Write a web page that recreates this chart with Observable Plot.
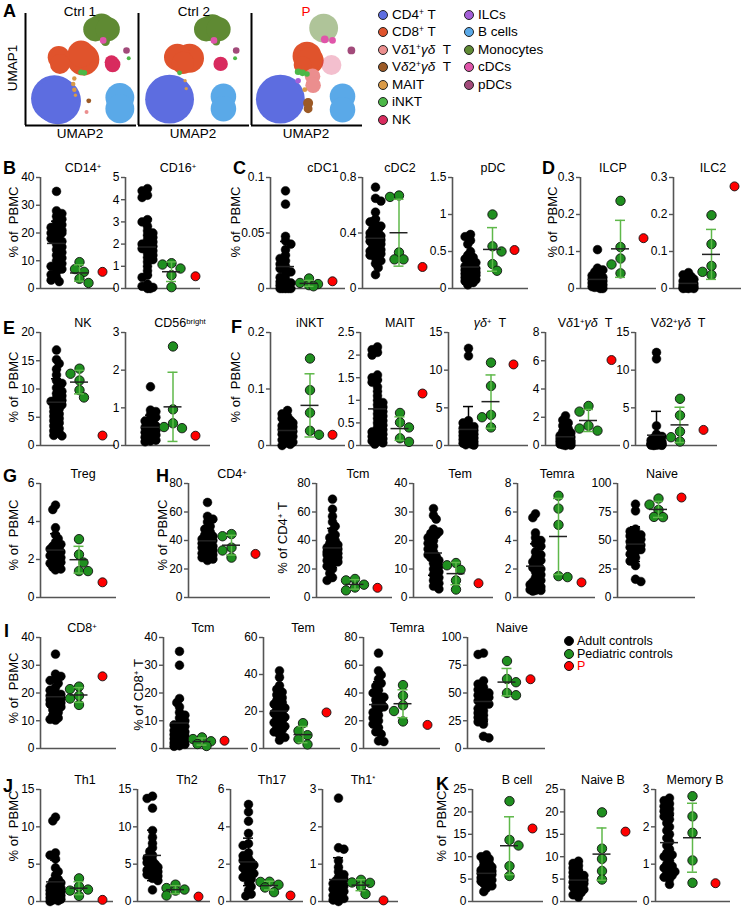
<!DOCTYPE html>
<html>
<head>
<meta charset="utf-8">
<script src="https://cdn.jsdelivr.net/npm/d3@7"></script>
<script src="https://cdn.jsdelivr.net/npm/@observablehq/plot@0.6"></script>
<style>
  html, body { margin: 0; padding: 0; background: #fff; }
  #fig { position: relative; width: 745px; height: 918px; overflow: hidden; font-family: "Liberation Sans", Arial, sans-serif; color: #000; }
  .t { position: absolute; white-space: nowrap; line-height: 1; font-size: 12.5px; }
  .letter { font-weight: 900; font-size: 18px; }
  .ylab { font-size: 13px; }
  .sup { font-size: 0.62em; position: relative; top: -0.45em; }
  .dotk { position: absolute; border-radius: 50%; box-sizing: border-box; border: 1px solid #222; }
</style>
</head>
<body>
<div id="fig"></div>
<script>
// ---------------- DATA ----------------
const groups = ["Adult controls", "Pediatric controls", "P"];

// B
const cd14Adult = [35, 28, 27, 26, 25, 24, 23, 22, 22, 21, 21, 20, 20, 20, 19, 19, 18, 18, 17, 16, 15, 14, 13, 12, 11, 10, 9, 8, 8, 7, 6, 5, 4, 3, 2.5];
const cd14Ped = [9.5, 7, 6, 3.5, 2];
const cd14P = 6;
const cd16Adult = [4.5, 4.4, 4.2, 4.1, 3.1, 3.0, 2.8, 2.6, 2.5, 2.4, 2.3, 2.2, 2.1, 2.0, 2.0, 1.9, 1.8, 1.8, 1.7, 1.6, 1.5, 1.4, 1.3, 1.2, 1.0, 0.8, 0.6, 0.5, 0.2, 0.1, 0.05, 0, 0];
const cd16Ped = [1.14, 1.08, 0.9, 0.6, 0.06];
const cd16P = 0.55;
// C
const cdc1Adult = [0.088, 0.076, 0.047, 0.043, 0.04, 0.035, 0.03, 0.027, 0.025, 0.022, 0.02, 0.018, 0.016, 0.015, 0.012, 0.01, 0.008, 0.006, 0.005, 0.004, 0.003, 0.002, 0.001, 0, 0, 0, 0, 0];
const cdc1Ped = [0.009, 0.005, 0.004, 0.003, 0.002];
const cdc1P = 0.0065;
const cdc2Adult = [0.73, 0.65, 0.63, 0.55, 0.5, 0.48, 0.46, 0.45, 0.43, 0.42, 0.4, 0.39, 0.38, 0.37, 0.36, 0.35, 0.34, 0.33, 0.32, 0.3, 0.3, 0.29, 0.28, 0.27, 0.26, 0.25, 0.24, 0.22, 0.2, 0.18, 0.15, 0.1];
const cdc2Ped = [0.67, 0.66, 0.26, 0.21, 0.21];
const cdc2P = 0.155;
const pdcAdult = [0.73, 0.7, 0.65, 0.6, 0.5, 0.45, 0.42, 0.4, 0.38, 0.35, 0.33, 0.3, 0.3, 0.28, 0.27, 0.25, 0.24, 0.22, 0.22, 0.2, 0.2, 0.2, 0.18, 0.18, 0.16, 0.15, 0.15, 0.12, 0.12, 0.1, 0.1, 0.08, 0.05];
const pdcPed = [1.0, 0.57, 0.5, 0.33, 0.24];
const pdcP = 0.52;
// D
const ilcpAdult = [0.105, 0.055, 0.05, 0.045, 0.04, 0.035, 0.03, 0.03, 0.028, 0.025, 0.022, 0.02, 0.02, 0.018, 0.015, 0.012, 0.01, 0.01, 0.008, 0.005, 0.005, 0.003, 0, 0];
const ilcpPed = [0.237, 0.112, 0.081, 0.065, 0.041];
const ilcpP = 0.136;
const ilc2Adult = [0.043, 0.037, 0.032, 0.028, 0.025, 0.022, 0.02, 0.018, 0.015, 0.013, 0.012, 0.01, 0.008, 0.007, 0.005, 0.004, 0.003, 0.002, 0.001, 0, 0, 0];
const ilc2Ped = [0.198, 0.12, 0.061, 0.045, 0.037];
const ilc2P = 0.276;
// E
const nkAdult = [16.9, 15.2, 14.5, 13.5, 12.5, 11.5, 11, 10.2, 9.6, 9.2, 8.8, 8.4, 8, 7.8, 7.5, 7.2, 6.8, 6.5, 6, 5.6, 5.2, 4.8, 4.4, 4, 3.5, 3, 2.6, 2.2, 1.8, 1.7];
const nkPed = [13.6, 12.7, 11.5, 9.8, 8.5];
const nkP = 1.76;
const cd56Adult = [1.56, 0.94, 0.9, 0.82, 0.75, 0.7, 0.65, 0.6, 0.56, 0.52, 0.5, 0.48, 0.45, 0.42, 0.4, 0.37, 0.35, 0.32, 0.3, 0.28, 0.25, 0.22, 0.2, 0.17, 0.14, 0.12, 0.1];
const cd56Ped = [2.63, 0.96, 0.59, 0.49, 0.46];
const cd56P = 0.26;
// F
const inktAdult = [0.062, 0.056, 0.052, 0.048, 0.045, 0.042, 0.04, 0.037, 0.035, 0.033, 0.031, 0.03, 0.028, 0.026, 0.025, 0.023, 0.021, 0.02, 0.018, 0.016, 0.014, 0.012, 0.01, 0.008, 0.006, 0.004, 0.002, 0];
const inktPed = [0.154, 0.098, 0.058, 0.026, 0.019];
const inktP = 0.019;
const maitAdult = [2.18, 2.12, 2.06, 2.0, 1.56, 1.5, 1.45, 1.4, 1.3, 1.2, 1.1, 1.0, 0.95, 0.9, 0.85, 0.8, 0.75, 0.7, 0.65, 0.6, 0.55, 0.5, 0.45, 0.4, 0.35, 0.3, 0.3, 0.25, 0.2, 0.2, 0.15, 0.15, 0.1, 0.1, 0.06, 0.03];
const maitPed = [0.72, 0.51, 0.4, 0.16, 0.08];
const maitP = 1.15;
const gdAdult = [12.9, 11.9, 3.3, 3.0, 2.7, 2.5, 2.3, 2.1, 2.0, 1.8, 1.7, 1.6, 1.5, 1.4, 1.3, 1.2, 1.1, 1.0, 0.9, 0.8, 0.7, 0.6, 0.5, 0.4, 0.3, 0.2, 0.1, 0.05];
const gdPed = [11.0, 7.9, 4.06, 3.75, 2.4];
const gdP = 10.76;
const vd1Adult = [2.1, 1.8, 1.6, 1.4, 1.2, 1.0, 0.9, 0.8, 0.7, 0.6, 0.55, 0.5, 0.45, 0.4, 0.35, 0.3, 0.3, 0.25, 0.2, 0.2, 0.15, 0.1, 0.08, 0.05, 0.02, 0];
const vd1Ped = [2.8, 2.4, 1.4, 1.2, 1.05];
const vd1P = 6.05;
const vd2Adult = [12.35, 11.5, 2.6, 1.5, 1.2, 1.0, 0.85, 0.7, 0.6, 0.5, 0.45, 0.4, 0.3, 0.3, 0.25, 0.2, 0.2, 0.15, 0.15, 0.12, 0.1, 0.1, 0.05, 0.05, 0.03, 0];
const vd2Ped = [6.2, 4.0, 1.85, 1.1, 0.53];
const vd2P = 2.07;
// G
const tregAdult = [4.86, 4.63, 3.67, 3.3, 3.1, 2.9, 2.8, 2.7, 2.6, 2.55, 2.5, 2.4, 2.35, 2.3, 2.2, 2.15, 2.1, 2.0, 2.0, 1.9, 1.85, 1.8, 1.7, 1.6, 1.5, 1.45];
const tregPed = [3.07, 2.26, 1.84, 1.39, 1.39];
const tregP = 0.8;
// H
const cd4Adult = [66.7, 57, 55, 53, 50, 48, 46, 44, 43, 42, 41, 40, 39, 38, 38, 37, 36, 35, 35, 34, 33, 32, 31, 30, 29, 28, 27, 26];
const cd4Ped = [44.5, 43, 35, 33, 28];
const cd4P = 30.6;
const tcm4Adult = [69, 62, 57, 53, 50, 47, 44, 42, 40, 38, 37, 36, 35, 34, 33, 32, 31, 30, 30, 29, 28, 27, 26, 25, 24, 22, 20, 17, 14, 12];
const tcm4Ped = [13, 12, 9, 7, 5];
const tcm4P = 6.8;
const tem4Adult = [31.2, 28.8, 27.5, 24, 23, 22.5, 22, 21, 20, 19, 18, 17, 16, 15, 14.5, 14, 13, 12, 11, 10, 9, 8, 7, 6, 5, 4, 3];
const tem4Ped = [12.1, 11.3, 9.7, 6.0, 2.8];
const tem4P = 5.0;
const temra4Adult = [5.87, 5.6, 4.53, 4.2, 4.0, 3.8, 3.6, 3.2, 3.0, 2.8, 2.6, 2.5, 2.3, 2.1, 2.0, 1.8, 1.6, 1.4, 1.2, 1.1, 1.0, 0.9, 0.8, 0.75, 0.7, 0.6, 0.55, 0.5, 0.5, 0.45];
const temra4Ped = [7.14, 6.24, 5.1, 1.5, 1.43];
const temra4P = 1.06;
const naive4Adult = [81.8, 76, 60, 58, 56, 55, 54, 53, 52, 51, 50, 49, 48, 47, 46, 45, 44, 42, 40, 38, 35, 32, 28, 16, 14];
const naive4Ped = [86.8, 81.5, 76.8, 70.7, 70.5];
const naive4P = 87.7;
// I
const cd8Adult = [34, 26.8, 26, 25, 24.5, 23.5, 22, 21, 20, 19.5, 19, 18.5, 18, 17.5, 17, 16.5, 16, 15.5, 15, 14, 13, 12, 11, 10.5, 10.2];
const cd8Ped = [22.3, 21.4, 19, 18, 15.7];
const cd8P = 26;
const tcm8Adult = [35, 30, 18, 16.5, 15, 13, 12, 11, 10, 9, 8.5, 8, 7, 6.5, 6, 5.5, 5, 4.5, 4, 3.5, 3, 2.5, 2, 1.5, 1, 0.8];
const tcm8Ped = [4.0, 3.4, 2.6, 1.6, 0.9];
const tcm8P = 2.8;
const tem8Adult = [42, 38.5, 34, 32, 30.5, 29, 27.5, 26, 25, 24, 23, 22, 21, 20, 19, 18, 17, 16, 15, 14, 13, 12, 11, 10, 9, 7.5, 6, 4.5];
const tem8Ped = [13.7, 9.5, 7.2, 5.0, 2.2];
const tem8P = 19.5;
const temra8Adult = [68.7, 56, 53, 50, 47, 45, 42, 40, 38, 37, 35, 33, 31, 30, 28, 26, 24, 22, 20, 17.5, 15, 12, 10.3, 5.5, 5];
const temra8Ped = [45.7, 38, 31.2, 27, 19.5];
const temra8P = 17;
const naive8Adult = [86, 84.7, 61, 58, 55, 53, 51, 50, 48, 47, 46, 45, 44, 43, 42, 40, 38, 36, 34, 32, 30, 28, 26, 24, 22, 11, 9.5];
const naive8Ped = [78.8, 62.6, 59.7, 50, 48];
const naive8P = 62.4;
// J
const th1Adult = [11.3, 10.8, 6.5, 6.2, 5.7, 4.5, 4.0, 3.5, 3.0, 2.7, 2.5, 2.2, 2.0, 1.8, 1.6, 1.5, 1.3, 1.2, 1.1, 1.0, 0.9, 0.8, 0.7, 0.6, 0.5, 0.4, 0.3, 0.2, 0.1, 0];
const th1Ped = [3.1, 2.0, 1.6, 1.46, 0.75];
const th1P = 0.22;
const th2Adult = [14.1, 13.8, 12.5, 9.5, 8.6, 7.8, 7.2, 6.7, 6.2, 5.8, 5.5, 5.2, 5.0, 4.8, 4.6, 4.4, 4.2, 4.0, 3.8, 3.6, 3.4, 3.1, 2.8, 1.55];
const th2Ped = [2.26, 1.8, 1.6, 1.46, 0.8];
const th2P = 0.66;
const th17Adult = [5.2, 4.8, 4.3, 3.65, 3.1, 3.0, 2.6, 2.45, 2.3, 2.2, 2.1, 2.0, 1.95, 1.9, 1.8, 1.7, 1.6, 1.5, 1.4, 1.3, 1.2, 1.0, 0.8, 0.6, 0.4, 0.3];
const th17Ped = [1.06, 1.05, 0.9, 0.75, 0.5];
const th17P = 0.32;
const th1sAdult = [2.77, 1.44, 1.4, 1.09, 0.92, 0.8, 0.72, 0.65, 0.6, 0.55, 0.5, 0.48, 0.45, 0.42, 0.4, 0.36, 0.33, 0.3, 0.27, 0.24, 0.2, 0.16, 0.12, 0.08, 0.04, 0];
const th1sPed = [0.58, 0.51, 0.5, 0.4, 0.2];
const th1sP = 0.03;
// K
const bcellAdult = [10.4, 10, 9.5, 9, 8.5, 8, 7.7, 7.4, 7, 6.8, 6.5, 6.3, 6, 5.8, 5.5, 5.3, 5, 4.8, 4.5, 4.2, 4, 3.5, 3, 2.2];
const bcellPed = [22.4, 13.75, 12.5, 7.9, 5.7];
const bcellP = 16.3;
const naiveBAdult = [9.0, 8.5, 8.0, 7.5, 7.0, 6.5, 6.0, 5.8, 5.5, 5.2, 5.0, 4.8, 4.5, 4.3, 4.0, 3.8, 3.5, 3.2, 3.0, 2.7, 2.4, 2.0, 1.5, 1.0];
const naiveBPed = [19.9, 11.8, 9.5, 6.8, 4.9];
const naiveBP = 15.6;
const memBAdult = [2.77, 2.7, 2.62, 2.55, 2.48, 2.42, 2.35, 2.28, 2.2, 2.1, 2.0, 1.9, 1.8, 1.7, 1.6, 1.5, 1.4, 1.3, 1.25, 1.2, 1.1, 1.0, 0.95, 0.9, 0.85, 0.8, 0.75, 0.7, 0.65, 0.6, 0.46];
const memBPed = [2.82, 2.28, 1.84, 1.1, 0.5];
const memBP = 0.49;

// UMAP (panel A): cell types, and cluster blobs [sample, type, umapX, umapY, radius, density]
const umapTypes = ["CD4⁺ T", "CD8⁺ T", "Vδ1⁺γδ T", "Vδ2⁺γδ T", "MAIT", "iNKT", "NK", "ILCs", "B cells", "Monocytes", "cDCs", "pDCs"];
const umapColors = ["#5d6de0", "#e0532c", "#eb8e8e", "#9c5a26", "#d99a47", "#4cb847", "#d82b5e", "#a45fd8", "#5aa9e8", "#5f8a33", "#e055aa", "#a24a7a"];
const umapSamples = ["Ctrl 1", "Ctrl 2", "P"];
const umapBlobs = [
  ["Ctrl 1", "CD4⁺ T", 2.6, 2.4, 2.1, 1], ["Ctrl 1", "CD4⁺ T", 2.9, 2.2, 2.1, 1],
  ["Ctrl 1", "B cells", 8.5, 2.5, 1.3, 1], ["Ctrl 1", "B cells", 8.5, 1.5, 1.3, 1],
  ["Ctrl 1", "Monocytes", 6.3, 8.6, 1.1, 1], ["Ctrl 1", "Monocytes", 7.4, 8.6, 1.1, 1], ["Ctrl 1", "Monocytes", 6.85, 8.8, 1.2, 1], ["Ctrl 1", "Monocytes", 7.2, 7.5, 0.4, 1],
  ["Ctrl 1", "CD8⁺ T", 3.0, 6.1, 1.0, 1], ["Ctrl 1", "CD8⁺ T", 3.1, 5.5, 0.9, 1], ["Ctrl 1", "CD8⁺ T", 5.2, 5.9, 1.45, 1], ["Ctrl 1", "CD8⁺ T", 5.0, 6.4, 1.2, 1],
  ["Ctrl 1", "NK", 7.85, 5.45, 0.7, 1], ["Ctrl 1", "NK", 7.75, 5.65, 0.62, 1],
  ["Ctrl 1", "iNKT", 5.0, 4.75, 0.25, 1], ["Ctrl 1", "iNKT", 5.3, 4.7, 0.25, 1], ["Ctrl 1", "iNKT", 9.3, 6.0, 0.18, 1],
  ["Ctrl 1", "MAIT", 4.4, 4.2, 0.2, 1], ["Ctrl 1", "MAIT", 4.3, 3.7, 0.2, 1], ["Ctrl 1", "MAIT", 4.4, 3.2, 0.2, 1], ["Ctrl 1", "MAIT", 4.5, 2.7, 0.15, 1],
  ["Ctrl 1", "Vδ2⁺γδ T", 5.7, 2.2, 0.22, 1], ["Ctrl 1", "Vδ1⁺γδ T", 5.5, 1.2, 0.18, 1],
  ["Ctrl 1", "cDCs", 7.0, 7.6, 0.3, 1], ["Ctrl 1", "pDCs", 9.1, 6.7, 0.3, 1],
  ["Ctrl 2", "CD4⁺ T", 2.8, 2.35, 2.2, 1],
  ["Ctrl 2", "B cells", 7.65, 2.6, 1.15, 1], ["Ctrl 2", "B cells", 7.65, 1.5, 1.15, 1],
  ["Ctrl 2", "Monocytes", 6.1, 8.6, 1.1, 1], ["Ctrl 2", "Monocytes", 7.2, 8.6, 1.1, 1], ["Ctrl 2", "Monocytes", 6.65, 8.75, 1.2, 1], ["Ctrl 2", "Monocytes", 7.0, 7.5, 0.35, 1],
  ["Ctrl 2", "CD8⁺ T", 3.5, 6.1, 1.2, 1], ["Ctrl 2", "CD8⁺ T", 4.6, 6.0, 1.3, 1], ["Ctrl 2", "CD8⁺ T", 4.0, 5.6, 1.0, 1],
  ["Ctrl 2", "NK", 7.4, 5.5, 0.65, 1],
  ["Ctrl 2", "iNKT", 3.7, 4.7, 0.22, 1], ["Ctrl 2", "iNKT", 8.7, 6.0, 0.18, 1],
  ["Ctrl 2", "MAIT", 4.2, 4.0, 0.15, 1], ["Ctrl 2", "MAIT", 4.3, 3.3, 0.15, 1],
  ["Ctrl 2", "cDCs", 6.8, 7.6, 0.3, 1], ["Ctrl 2", "pDCs", 8.8, 6.7, 0.3, 1],
  ["P", "CD4⁺ T", 2.6, 2.35, 2.2, 1],
  ["P", "B cells", 8.2, 2.6, 1.15, 1], ["P", "B cells", 8.2, 1.4, 1.15, 1],
  ["P", "Monocytes", 6.5, 8.7, 1.3, 0.5],
  ["P", "cDCs", 6.6, 7.7, 0.35, 1], ["P", "cDCs", 7.3, 7.6, 0.3, 1],
  ["P", "CD8⁺ T", 5.0, 6.2, 1.3, 1], ["P", "CD8⁺ T", 5.3, 5.8, 1.2, 1], ["P", "CD8⁺ T", 4.6, 5.4, 0.8, 1],
  ["P", "Vδ1⁺γδ T", 5.5, 4.4, 0.7, 1], ["P", "Vδ1⁺γδ T", 5.55, 3.6, 0.7, 1],
  ["P", "NK", 7.2, 5.4, 0.9, 0.3],
  ["P", "iNKT", 4.2, 4.8, 0.3, 1], ["P", "iNKT", 4.6, 4.7, 0.3, 1], ["P", "iNKT", 5.0, 4.6, 0.25, 1],
  ["P", "ILCs", 4.2, 4.0, 0.25, 1],
  ["P", "Vδ2⁺γδ T", 5.1, 2.0, 0.45, 1], ["P", "Vδ2⁺γδ T", 5.1, 1.5, 0.4, 1],
  ["P", "MAIT", 4.8, 3.2, 0.22, 1],
  ["P", "pDCs", 9.0, 6.7, 0.35, 1]
];

// ---------------- LAYOUT ----------------
const fig = document.getElementById("fig");
const FONT = '"Liberation Sans", Arial, sans-serif';
const AXIS = "#555";
const GREEN_DOT = "#1f8f1f";
const GREEN_BAR = "#5fb84a";

function addText(html, x, y, opts = {}) {
  const d = document.createElement("div");
  d.className = "t " + (opts.cls || "");
  d.innerHTML = html;
  d.style.left = x + "px";
  d.style.top = y + "px";
  const a = opts.anchor || "middle";
  const tx = a === "start" ? "0" : a === "end" ? "-100%" : "-50%";
  d.style.transform = `translate(${tx}, -50%)` + (opts.rotate ? " rotate(-90deg)" : "");
  if (opts.color) d.style.color = opts.color;
  if (opts.size) d.style.fontSize = opts.size + "px";
  fig.appendChild(d);
  return d;
}
function place(svg, left, top) {
  svg.style.position = "absolute";
  svg.style.left = left + "px";
  svg.style.top = top + "px";
  svg.style.overflow = "visible";
  svg.style.maxWidth = "none";
  fig.appendChild(svg);
}

// --------- Panel A: UMAPs ---------
const umapFrames = [25, 138, 251];
const umapTitleX = [80, 194, 306];
umapSamples.forEach((s, k) => {
  const blobs = umapBlobs.filter(b => b[0] === s).map(b => ({type: b[1], x: b[2], y: b[3], r: b[4], o: b[5]}));
  const W = 111, H = 112, ml = 3, mb = 3, mt = 2, mr = 2;
  const svg = Plot.plot({
    width: W + ml + mr, height: H + mt + mb,
    marginLeft: ml, marginRight: mr, marginTop: mt, marginBottom: mb,
    x: {domain: [0, 10], axis: null},
    y: {domain: [0, 10], axis: null},
    r: {type: "linear", domain: [0, 1], range: [0, W / 10]},
    color: {domain: umapTypes, range: umapColors},
    opacity: {type: "identity"},
    style: {background: "transparent", fontFamily: FONT},
    marks: [
      Plot.dot(blobs, {x: "x", y: "y", r: "r", fill: "type", fillOpacity: "o", stroke: "none"}),
      Plot.ruleX([0], {y1: 0, y2: 10, stroke: "#000", strokeWidth: 2}),
      Plot.ruleY([0], {x1: 0, x2: 10, stroke: "#000", strokeWidth: 2})
    ]
  });
  place(svg, umapFrames[k] - ml, 13 - mt);
  addText(s, umapTitleX[k], 12, {size: 13.5, color: s === "P" ? "#ff0000" : "#000"});
  addText("UMAP2", umapFrames[k] + 55, 134, {size: 13.5});
});
addText("UMAP1", 13, 68, {size: 13.5, rotate: true});
addText("A", 3, 11, {cls: "letter", anchor: "start"});

// UMAP legend
const legCols = [[383, 0, 7], [469, 7, 12]];
const legRowsY = [15, 32, 50, 67, 85, 102, 120];
legCols.forEach(([cx, i0, i1]) => {
  for (let i = i0; i < i1; i++) {
    const y = legRowsY[i - i0];
    const c = document.createElement("div");
    c.className = "dotk";
    c.style.width = "10px"; c.style.height = "10px";
    c.style.left = (cx - 5) + "px"; c.style.top = (y - 5) + "px";
    c.style.background = umapColors[i];
    fig.appendChild(c);
    const lbl = umapTypes[i]
      .replace("CD4⁺", 'CD4<span class="sup">+</span>')
      .replace("CD8⁺", 'CD8<span class="sup">+</span>')
      .replace(/Vδ(\d)⁺γδ T/, 'V<i>δ</i>$1<span class="sup">+</span><i>γδ</i>&nbsp; T');
    addText(lbl, cx + 9, y, {anchor: "start", size: 13.5});
  }
});

// --------- Scatter panels ---------
const sup = s => `<span class="sup">${s}</span>`;
const panels = [
  // row B/C/D
  {t: "CD14" + sup("+"), tx: 83, ax: 40, right: 115, top: 177, zero: 288, ymax: 40, ticks: [0, 10, 20, 30, 40], c: [16, 62], a: cd14Adult, g: cd14Ped, p: cd14P},
  {t: "CD16" + sup("+"), tx: 178, ax: 125, right: 200, top: 177, zero: 288, ymax: 5, ticks: [0, 1, 2, 3, 4, 5], c: [22, 70], a: cd16Adult, g: cd16Ped, p: cd16P},
  {t: "cDC1", tx: 323, ax: 270, right: 345, top: 177, zero: 288, ymax: 0.1, ticks: [0, 0.05, 0.1], c: [15, 62], a: cdc1Adult, g: cdc1Ped, p: cdc1P},
  {t: "cDC2", tx: 400, ax: 362, right: 440, top: 177, zero: 288, ymax: 0.8, ticks: [0, 0.4, 0.8], c: [13, 60], a: cdc2Adult, g: cdc2Ped, p: cdc2P},
  {t: "pDC", tx: 493, ax: 452, right: 528, top: 177, zero: 288, ymax: 1.5, ticks: [0, 0.5, 1, 1.5], c: [18, 62], a: pdcAdult, g: pdcPed, p: pdcP},
  {t: "ILCP", tx: 613, ax: 580, right: 656, top: 177, zero: 288, ymax: 0.3, ticks: [0, 0.1, 0.2, 0.3], c: [17, 63], a: ilcpAdult, g: ilcpPed, p: ilcpP},
  {t: "ILC2", tx: 713, ax: 673, right: 741, top: 177, zero: 288, ymax: 0.3, ticks: [0, 0.1, 0.2, 0.3], c: [15, 61], a: ilc2Adult, g: ilc2Ped, p: ilc2P},
  // row E/F
  {t: "NK", tx: 83, ax: 40, right: 115, top: 332, zero: 445, ymax: 20, ticks: [0, 5, 10, 15, 20], c: [16, 62], a: nkAdult, g: nkPed, p: nkP},
  {t: "CD56" + sup("bright"), tx: 180, ax: 125, right: 210, top: 332, zero: 445, ymax: 3, ticks: [0, 1, 2, 3], c: [25, 70], a: cd56Adult, g: cd56Ped, p: cd56P},
  {t: "iNKT", tx: 310, ax: 270, right: 345, top: 332, zero: 445, ymax: 0.2, ticks: [0, 0.1, 0.2], c: [17, 62], a: inktAdult, g: inktPed, p: inktP},
  {t: "MAIT", tx: 400, ax: 360, right: 433, top: 332, zero: 445, ymax: 2.5, ticks: [0, 0.5, 1, 1.5, 2, 2.5], c: [17, 62], a: maitAdult, g: maitPed, p: maitP},
  {t: "<i>γδ</i>" + sup("+") + "&nbsp; T", tx: 490, ax: 448, right: 528, top: 332, zero: 445, ymax: 15, ticks: [0, 5, 10, 15], c: [20, 65], a: gdAdult, g: gdPed, p: gdP},
  {t: "V<i>δ</i>1" + sup("+") + "<i>γδ</i>&nbsp; T", tx: 585, ax: 545, right: 620, top: 332, zero: 445, ymax: 8, ticks: [0, 2, 4, 6, 8], c: [20, 66], a: vd1Adult, g: vd1Ped, p: vd1P},
  {t: "V<i>δ</i>2" + sup("+") + "<i>γδ</i>&nbsp; T", tx: 678, ax: 635, right: 717, top: 332, zero: 445, ymax: 15, ticks: [0, 5, 10, 15], c: [21, 68], a: vd2Adult, g: vd2Ped, p: vd2P},
  // row G/H
  {t: "Treg", tx: 83, ax: 40, right: 116, top: 483, zero: 597, ymax: 6, ticks: [0, 2, 4, 6], c: [15, 62], a: tregAdult, g: tregPed, p: tregP},
  {t: "CD4" + sup("+"), tx: 232, ax: 188, right: 270, top: 483, zero: 597, ymax: 80, ticks: [0, 20, 40, 60, 80], c: [19, 67], a: cd4Adult, g: cd4Ped, p: cd4P},
  {t: "Tcm", tx: 358, ax: 316, right: 392, top: 483, zero: 597, ymax: 80, ticks: [0, 20, 40, 60, 80], c: [16, 61], a: tcm4Adult, g: tcm4Ped, p: tcm4P},
  {t: "Tem", tx: 460, ax: 413, right: 493, top: 483, zero: 597, ymax: 40, ticks: [0, 10, 20, 30, 40], c: [20, 65], a: tem4Adult, g: tem4Ped, p: tem4P},
  {t: "Temra", tx: 557, ax: 517, right: 595, top: 483, zero: 597, ymax: 8, ticks: [0, 2, 4, 6, 8], c: [18, 64], a: temra4Adult, g: temra4Ped, p: temra4P},
  {t: "Naive", tx: 662, ax: 617, right: 695, top: 483, zero: 597, ymax: 100, ticks: [0, 25, 50, 75, 100], c: [18, 64], a: naive4Adult, g: naive4Ped, p: naive4P},
  // row I
  {t: "CD8" + sup("+"), tx: 82, ax: 40, right: 116, top: 637, zero: 748, ymax: 40, ticks: [0, 10, 20, 30, 40], c: [15, 62], a: cd8Adult, g: cd8Ped, p: cd8P},
  {t: "Tcm", tx: 203, ax: 163, right: 248, top: 637, zero: 748, ymax: 40, ticks: [0, 10, 20, 30, 40], c: [16, 61], a: tcm8Adult, g: tcm8Ped, p: tcm8P},
  {t: "Tem", tx: 303, ax: 263, right: 340, top: 637, zero: 748, ymax: 60, ticks: [0, 20, 40, 60], c: [16, 63], a: tem8Adult, g: tem8Ped, p: tem8P},
  {t: "Temra", tx: 407, ax: 363, right: 440, top: 637, zero: 748, ymax: 80, ticks: [0, 20, 40, 60, 80], c: [15, 64], a: temra8Adult, g: temra8Ped, p: temra8P},
  {t: "Naive", tx: 512, ax: 467, right: 545, top: 637, zero: 748, ymax: 100, ticks: [0, 25, 50, 75, 100], c: [16, 63], a: naive8Adult, g: naive8Ped, p: naive8P},
  // row J/K
  {t: "Th1", tx: 85, ax: 40, right: 113, top: 789, zero: 901, ymax: 15, ticks: [0, 5, 10, 15], c: [15, 62], a: th1Adult, g: th1Ped, p: th1P},
  {t: "Th2", tx: 187, ax: 137, right: 210, top: 789, zero: 901, ymax: 15, ticks: [0, 5, 10, 15], c: [15, 61], a: th2Adult, g: th2Ped, p: th2P},
  {t: "Th17", tx: 272, ax: 230, right: 303, top: 789, zero: 901, ymax: 6, ticks: [0, 2, 4, 6], c: [18, 60], a: th17Adult, g: th17Ped, p: th17P},
  {t: "Th1" + sup("*"), tx: 363, ax: 322, right: 398, top: 789, zero: 901, ymax: 3, ticks: [0, 1, 2, 3], c: [16, 61], a: th1sAdult, g: th1sPed, p: th1sP},
  {t: "B cell", tx: 517, ax: 472, right: 543, top: 789, zero: 901, ymax: 25, ticks: [0, 5, 10, 15, 20, 25], c: [14, 60], a: bcellAdult, g: bcellPed, p: bcellP},
  {t: "Naive B", tx: 603, ax: 564, right: 637, top: 789, zero: 901, ymax: 25, ticks: [0, 5, 10, 15, 20, 25], c: [14, 61], a: naiveBAdult, g: naiveBPed, p: naiveBP},
  {t: "Memory B", tx: 695, ax: 655, right: 730, top: 789, zero: 901, ymax: 3, ticks: [0, 1, 2, 3], c: [14, 60], a: memBAdult, g: memBPed, p: memBP}
];

// deterministic beeswarm offsets (pixels) so overlapping dots spread sideways
function swarmOffsets(vals, yPx, minD, stepO, maxO) {
  const order = vals.map((_, i) => i).sort((a, b) => vals[b] - vals[a]);
  const cands = [0];
  for (let k = 1; k * stepO <= maxO + 1e-9; k++) cands.push(k * stepO, -k * stepO);
  const placed = [], offs = new Array(vals.length).fill(0);
  order.forEach((i, n) => {
    const y = yPx(vals[i]);
    let best = 0, bestD = -1;
    const cs = n % 2 ? cands.map(o => -o) : cands;
    for (const o of cs) {
      let dmin = Infinity;
      for (const p of placed) { const d = Math.hypot(p[0] - o, p[1] - y); if (d < dmin) dmin = d; }
      if (dmin >= minD) { best = o; break; }
      if (dmin > bestD) { bestD = dmin; best = o; }
    }
    offs[i] = best;
    placed.push([best, y]);
  });
  return offs;
}

panels.forEach(cfg => {
  const ml = 36, mr = 8, mt = 10, mb = 10;
  const W = cfg.right - cfg.ax, H = cfg.zero - cfg.top;
  const stepPx = (cfg.c[1] - cfg.c[0]) / 2;
  const x0 = 1 - cfg.c[0] / stepPx, x1 = 1 + (W - cfg.c[0]) / stepPx;
  const yPx = v => H * (1 - v / cfg.ymax);
  const pts = [];
  const offA = swarmOffsets(cfg.a, yPx, 4.4, 2.7, 8);
  cfg.a.forEach((v, i) => pts.push({g: 1, v, off: offA[i]}));
  const offG = swarmOffsets(cfg.g, yPx, 8, 4.5, 9);
  cfg.g.forEach((v, i) => pts.push({g: 2, v, off: offG[i]}));
  pts.push({g: 3, v: cfg.p, off: 0});
  const stats = [[1, cfg.a], [2, cfg.g]].map(([g, arr]) => {
    const m = d3.mean(arr), s = d3.deviation(arr);
    return {g, mean: m, lo: Math.max(0, m - s), hi: m + s};
  });
  const u = px => px / stepPx;
  const barColor = d => d.g === 1 ? "#000" : GREEN_BAR;
  const svg = Plot.plot({
    width: W + ml + mr, height: H + mt + mb,
    marginLeft: ml, marginRight: mr, marginTop: mt, marginBottom: mb,
    x: {domain: [x0, x1], axis: null},
    y: {domain: [0, cfg.ymax], axis: null, label: null},
    style: {background: "transparent", fontFamily: FONT, fontSize: "12px", color: "#000"},
    marks: [
      Plot.ruleY([0], {x1: x0, x2: x1, stroke: AXIS, strokeWidth: 1.6}),
      Plot.ruleX([x0], {y1: 0, y2: cfg.ymax, stroke: AXIS, strokeWidth: 1.6}),
      Plot.axisY(cfg.ticks, {tickSize: 4, tickPadding: 2, tickFormat: d => String(d), stroke: AXIS, strokeWidth: 1.4, fontSize: 12, label: null}),
      Plot.dot(pts.filter(d => d.g === 1), {x: d => d.g + u(d.off), y: "v", r: 4.4, fill: "#000", stroke: "#000", strokeWidth: 0.5}),
      Plot.dot(pts.filter(d => d.g === 2), {x: d => d.g + u(d.off), y: "v", r: 4.7, fill: GREEN_DOT, stroke: "#111", strokeWidth: 0.9}),
      Plot.dot(pts.filter(d => d.g === 3), {x: "g", y: "v", r: 4.5, fill: "#ff0000", stroke: "#111", strokeWidth: 0.9}),
      Plot.ruleX(stats, {x: "g", y1: "lo", y2: "hi", stroke: barColor, strokeWidth: 1.5}),
      Plot.ruleY(stats, {x1: d => d.g - u(5), x2: d => d.g + u(5), y: "lo", stroke: barColor, strokeWidth: 1.5}),
      Plot.ruleY(stats, {x1: d => d.g - u(5), x2: d => d.g + u(5), y: "hi", stroke: barColor, strokeWidth: 1.5}),
      Plot.ruleY(stats, {x1: d => d.g - u(9), x2: d => d.g + u(9), y: "mean", stroke: "#222", strokeWidth: 1.5})
    ]
  });
  place(svg, cfg.ax - ml, cfg.top - mt);
  addText(cfg.t, cfg.tx, cfg.top - 9, {size: 12.5});
});

// Panel letters
[["B", 3, 168], ["C", 233, 168], ["D", 542, 168], ["E", 3, 328], ["F", 231, 327], ["G", 3, 476],
 ["H", 156, 476], ["I", 4, 631], ["J", 3, 786], ["K", 436, 784]].forEach(([l, x, y]) => addText(l, x, y, {cls: "letter", anchor: "start"}));

// Y-axis labels
const pbmc = "% of&nbsp; PBMC";
[[13, 222], [235, 222], [552, 222], [13, 387], [235, 387], [13, 535], [162, 535], [13, 688], [13, 826], [441, 826]]
  .forEach(([x, y]) => addText(pbmc, x, y, {cls: "ylab", rotate: true}));
addText("% of CD4" + sup("+") + " T", 283, 538, {cls: "ylab", rotate: true});
addText("% of CD8" + sup("+") + " T", 139, 695, {cls: "ylab", rotate: true});

// Group legend (panel I)
const legendFills = ["#000", GREEN_DOT, "#ff0000"];
const legendY = [641, 653.5, 666];
groups.forEach((gname, i) => {
  const c = document.createElement("div");
  c.className = "dotk";
  c.style.width = "10px"; c.style.height = "10px";
  c.style.left = "564px"; c.style.top = (legendY[i] - 5) + "px";
  c.style.background = legendFills[i];
  c.style.borderColor = "#111";
  fig.appendChild(c);
  addText(gname, 577, legendY[i], {anchor: "start", size: 12.5, color: i === 2 ? "#ff0000" : "#000"});
});
</script>
</body>
</html>
